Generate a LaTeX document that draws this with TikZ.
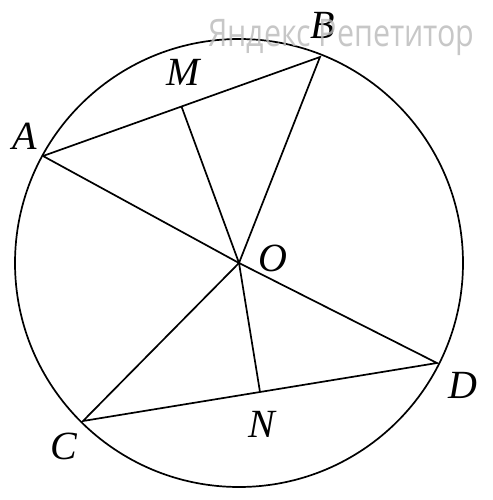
\documentclass[tikz,border=0pt]{standalone}
\usepackage{fontspec}
\usetikzlibrary{calc}
\setmainfont{Liberation Serif}
\newfontfamily\wmfont{Open Sans}
\begin{document}
\begin{tikzpicture}[x=1pt,y=-1pt,
  geo/.style={line width=1.7pt,black},
  lbl/.style={font=\fontsize{40}{40}\selectfont\itshape,inner sep=0pt},
  wm/.style={font=\fontsize{38}{38}\wmfont,text=gray!55,opacity=0.8,inner sep=0pt,anchor=base west}]
\useasboundingbox (0,0) rectangle (492,500);
\fill[white] (0,0) rectangle (492,500);
\coordinate (O) at (239,263);
\coordinate (A) at (43,156);
\coordinate (B) at (320,57);
\coordinate (C) at (83,421);
\coordinate (D) at (437,363);
\coordinate (M) at ($(A)!0.5!(B)$);
\coordinate (N) at ($(C)!0.5!(D)$);
\draw[geo] (O) circle (224);
\draw[geo] (A) -- (B) -- (O) -- (C) -- (D) -- (O) -- (A);
\draw[geo] (O) -- (M);
\draw[geo] (O) -- (N);
\node[lbl] (lA) at (25,136) {A};
\node[lbl] (lB) at (323,25) {B};
\node[lbl] (lM) at (183,72) {M};
\node[lbl] (lO) at (273,258) {O};
\node[lbl] (lC) at (64,446) {C};
\node[lbl] (lD) at (463,385) {D};
\node[lbl] (lN) at (262,424) {N};
\node[wm] (wm) at (208,47) {\scalebox{0.8}[1]{Яндекс Репетитор}};
\end{tikzpicture}
\end{document}
